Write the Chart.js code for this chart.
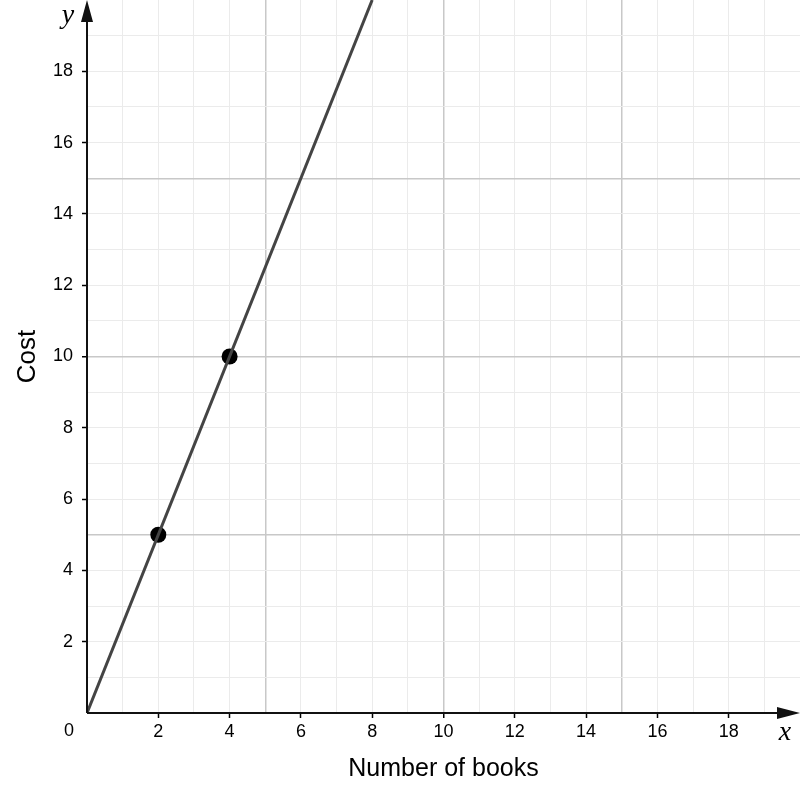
<!DOCTYPE html>
<html>
<head>
<meta charset="utf-8">
<script src="https://cdn.jsdelivr.net/npm/chart.js@4"></script>
<style>
  html, body { margin: 0; padding: 0; background: #fff; }
  #wrap { width: 800px; height: 804px; }
</style>
</head>
<body>
<div id="wrap"><canvas id="chart"></canvas></div>
<script>
// Data
const lineX = [0, 8];
const lineY = [0, 20];
const pointX = [2, 4];
const pointY = [5, 10];
const xTickLabels = [2, 4, 6, 8, 10, 12, 14, 16, 18];
const yTickLabels = [2, 4, 6, 8, 10, 12, 14, 16, 18];
const xTitle = "Number of books";
const yTitle = "Cost";

const MINOR = "#ebebeb";
const MAJOR = "#c8c8c8";
const FONT = '"Liberation Sans", Arial, sans-serif';

function gridColor(ctx) {
  const v = ctx.tick.value;
  if (v === 0 || v === 20) return "rgba(0,0,0,0)";
  return v % 5 === 0 ? MAJOR : MINOR;
}
function gridWidth(ctx) {
  return ctx.tick.value % 5 === 0 ? 1.5 : 1;
}
function tickColor(labels) {
  return ctx => labels.includes(ctx.tick.value) ? "#000" : "rgba(0,0,0,0)";
}
function noPad(s) {
  s.paddingTop = 0; s.paddingBottom = 0; s.paddingLeft = 0; s.paddingRight = 0;
}

// axis lines with arrow heads, plus the x / y / 0 marks
const axesPlugin = {
  id: "axes",
  afterDraw(chart) {
    const c = chart.ctx;
    const xs = chart.scales.x, ys = chart.scales.y;
    const ox = xs.getPixelForValue(0), oy = ys.getPixelForValue(0);
    const right = chart.chartArea.right, top = chart.chartArea.top;
    c.save();
    c.strokeStyle = "#111";
    c.fillStyle = "#111";
    c.lineWidth = 2;
    c.beginPath();
    c.moveTo(ox, oy);
    c.lineTo(right - 20, oy);
    c.moveTo(ox, oy);
    c.lineTo(ox, top + 20);
    c.stroke();
    // x arrow
    c.beginPath();
    c.moveTo(right, oy);
    c.lineTo(right - 23, oy - 6);
    c.lineTo(right - 23, oy + 6);
    c.closePath();
    c.fill();
    // y arrow
    c.beginPath();
    c.moveTo(ox, top);
    c.lineTo(ox - 6, top + 22);
    c.lineTo(ox + 6, top + 22);
    c.closePath();
    c.fill();

    c.fillStyle = "#000";
    c.font = "18px " + FONT;
    c.textAlign = "center";
    c.textBaseline = "middle";
    c.fillText("0", ox - 18, oy + 18);

    c.font = 'italic 28px "Liberation Serif", "DejaVu Serif", serif';
    c.textBaseline = "alphabetic";
    c.fillText("x", 785, oy + 27);
    c.fillText("y", ox - 19, top + 23);
    c.restore();
  }
};

new Chart(document.getElementById("chart"), {
  type: "scatter",
  data: {
    datasets: [
      {
        type: "line",
        data: lineX.map((x, i) => ({ x: x, y: lineY[i] })),
        borderColor: "#444",
        borderWidth: 3,
        pointRadius: 0,
        fill: false
      },
      {
        data: pointX.map((x, i) => ({ x: x, y: pointY[i] })),
        backgroundColor: "#000",
        borderWidth: 0,
        pointRadius: 8,
        pointHoverRadius: 8
      }
    ]
  },
  options: {
    responsive: true,
    maintainAspectRatio: false,
    animation: false,
    layout: { padding: 0, autoPadding: false },
    plugins: { legend: { display: false }, tooltip: { enabled: false } },
    scales: {
      x: {
        type: "linear",
        min: 0,
        max: 20,
        afterFit: s => { s.height = 91; noPad(s); },
        border: { display: false },
        grid: { color: gridColor, lineWidth: gridWidth, tickLength: 5, tickColor: tickColor(xTickLabels), tickWidth: 1.5 },
        ticks: {
          stepSize: 1,
          autoSkip: false,
          maxRotation: 0,
          padding: 3,
          color: "#000",
          font: { family: FONT, size: 18 },
          callback: v => xTickLabels.includes(v) ? String(v) : ""
        },
        title: {
          display: true,
          text: xTitle,
          color: "#000",
          font: { family: FONT, size: 25 },
          padding: { top: 0, bottom: 20 }
        }
      },
      y: {
        type: "linear",
        min: 0,
        max: 20,
        afterFit: s => { s.width = 87; noPad(s); },
        border: { display: false },
        grid: { color: gridColor, lineWidth: gridWidth, tickLength: 5, tickColor: tickColor(yTickLabels), tickWidth: 1.5 },
        ticks: {
          stepSize: 1,
          autoSkip: false,
          padding: 9,
          color: "#000",
          font: { family: FONT, size: 18 },
          callback: v => yTickLabels.includes(v) ? String(v) : ""
        },
        title: {
          display: true,
          text: yTitle,
          color: "#000",
          font: { family: FONT, size: 26 },
          padding: { top: 12, bottom: 0 }
        }
      }
    }
  },
  plugins: [axesPlugin]
});
</script>
</body>
</html>
